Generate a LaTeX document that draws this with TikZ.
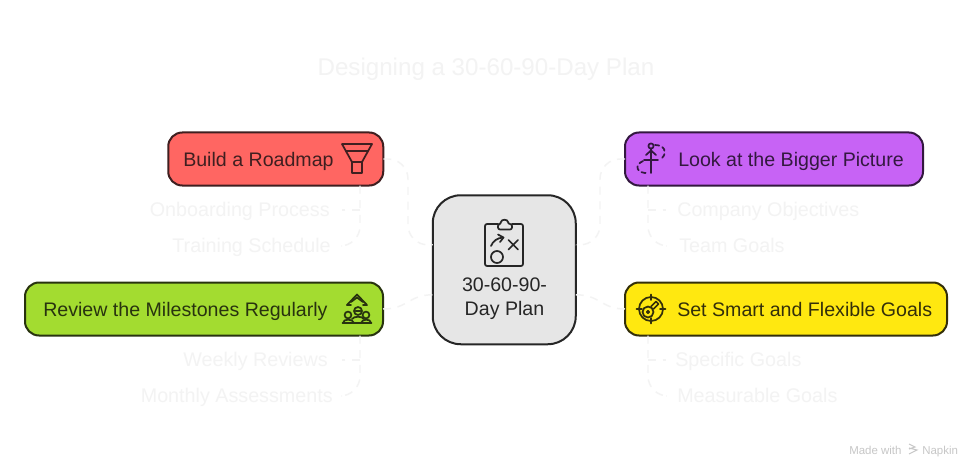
\documentclass[tikz,border=0pt]{standalone}
\usepackage{fontspec}
\setmainfont{Liberation Sans}
\usetikzlibrary{arrows.meta}
\definecolor{faint}{HTML}{F3F3F3}
\definecolor{redf}{HTML}{FF6662}\definecolor{redd}{HTML}{3F1F20}
\definecolor{purf}{HTML}{C763F5}\definecolor{purd}{HTML}{33183F}
\definecolor{grnf}{HTML}{A3DC30}\definecolor{grnd}{HTML}{28330F}
\definecolor{yelf}{HTML}{FFE810}\definecolor{yeld}{HTML}{332F0A}
\definecolor{hubf}{HTML}{E6E6E6}\definecolor{hubd}{HTML}{262626}
\tikzset{
  x=0.75pt,y=-0.75pt,
  box/.style={draw,line width=1.5pt,rounded corners=10.5pt,inner sep=0pt,outer sep=0pt},
  boxtext/.style={font=\fontsize{14.7pt}{18pt}\selectfont,inner sep=0pt},
  sub/.style={font=\fontsize{14.8pt}{17pt}\selectfont,text=faint,inner sep=0pt},
  link/.style={draw=faint,line width=1.1pt,dash pattern=on 6pt off 5pt,rounded corners=15pt},
  ico/.style={line width=1.3pt,line cap=round,line join=round}
}
\begin{document}
\begin{tikzpicture}
\useasboundingbox[fill=white] (0,0) rectangle (972,467);
% title
\node[font=\fontsize{18.1pt}{22pt}\selectfont,text=faint,inner sep=0pt,anchor=mid] (title) at (486,72) {Designing a 30-60-90-Day Plan};
% boxes
\node[box,fill=redf,draw=redd,minimum width=161.25pt,minimum height=39.75pt] (roadmap) at (275.75,159) {};
\node[box,fill=purf,draw=purd,minimum width=223.5pt,minimum height=39.75pt] (bigger) at (774,159) {};
\node[box,fill=grnf,draw=grnd,minimum width=268.5pt,minimum height=39.75pt] (review) at (204,309) {};
\node[box,fill=yelf,draw=yeld,minimum width=241.5pt,minimum height=39.75pt] (smart) at (786,309) {};
\node[box,fill=hubf,draw=hubd,rounded corners=21pt,minimum width=107.25pt,minimum height=111.75pt] (hub) at (504.25,269.75) {};
% box texts
\node[boxtext,text=redd,anchor=mid west] (t1) at (183,162.5) {Build a Roadmap};
\node[boxtext,text=purd,anchor=mid west] (t2) at (678,162.5) {Look at the Bigger Picture};
\node[boxtext,text=grnd,anchor=mid west] (t3) at (43,312.5) {Review the Milestones Regularly};
\node[boxtext,text=yeld,anchor=mid west] (t4) at (677,312.5) {Set Smart and Flexible Goals};
\node[boxtext,text=hubd,align=center,anchor=center] (t5) at (504.5,299) {30-60-90-\\Day Plan};
% sub labels
\node[sub,anchor=mid east] (onb) at (330,213) {Onboarding Process};
\node[sub,anchor=mid east] (tra) at (331,249) {Training Schedule};
\node[sub,anchor=mid east] (wee) at (328,363) {Weekly Reviews};
\node[sub,anchor=mid east] (mon) at (333,399) {Monthly Assessments};
\node[sub,anchor=mid west] (com) at (677,213) {Company Objectives};
\node[sub,anchor=mid west] (tea) at (679,249) {Team Goals};
\node[sub,anchor=mid west] (spe) at (675,363) {Specific Goals};
\node[sub,anchor=mid west] (mea) at (677,399) {Measurable Goals};
% connector ends
\coordinate (hubLa) at ([shift={(0,-25)}]hub.west);
\coordinate (hubLb) at ([shift={(0,25)}]hub.west);
\coordinate (hubRa) at ([shift={(0,-25)}]hub.east);
\coordinate (hubRb) at ([shift={(0,25)}]hub.east);
\coordinate (rmS) at ([shift={(84.25,0)}]roadmap.south);
\coordinate (bgS) at ([shift={(-126,0)}]bigger.south);
\coordinate (rvS) at ([shift={(156,0)}]review.south);
\coordinate (smS) at ([shift={(-138,0)}]smart.south);
\coordinate (traE) at (342,246);
\coordinate (onbE) at (342,210);
\coordinate (monE) at (342,396);
\coordinate (weeE) at (342,360);
\coordinate (teaE) at (666,246);
\coordinate (comE) at (666,210);
\coordinate (meaE) at (666,396);
\coordinate (speE) at (666,360);
% hub connectors
\draw[link] (roadmap.east) -- (408,159) -- (408,245) -- (hubLa);
\draw[link] (bigger.west) -- (600,159) -- (600,245) -- (hubRa);
\draw[link,rounded corners=0pt] (review.east) .. controls (408,309) and (408,295) .. (hubLb);
\draw[link,rounded corners=0pt] (smart.west) .. controls (601,309) and (601,295) .. (hubRb);
% child connectors
\draw[link] (rmS) -- (360,246) -- (traE);
\draw[link] (360,210) -- (onbE);
\draw[link] (bgS) -- (648,246) -- (teaE);
\draw[link] (648,210) -- (comE);
\draw[link] (rvS) -- (360,396) -- (monE);
\draw[link] (360,360) -- (weeE);
\draw[link] (smS) -- (648,396) -- (meaE);
\draw[link] (648,360) -- (speE);
% funnel icon
\begin{scope}[ico,draw=redd]
\draw (342,144) -- (372,144) -- (362,162) -- (352,162) -- cycle;
\draw (346,151) -- (368,151);
\draw (352,162) rectangle (362,173);
\end{scope}
% bigger picture icon
\begin{scope}[ico,draw=purd]
\draw (651,146) circle (2.6);
\draw (651,149) -- (651,173);
\draw (646,155) -- (651,150.5) -- (656,155);
\draw (644,160) -- (658,160);
\draw[dash pattern=on 3.2pt off 2.6pt] (655,145) .. controls (664,145) and (668,152) .. (662,158);
\draw[dash pattern=on 3.2pt off 2.6pt] (643,161) .. controls (634,165) and (636,174) .. (649,173);
\end{scope}
% milestones icon
\begin{scope}[ico,draw=grnd]
\draw (347,305) -- (357,294.5) -- (367,305) -- (363,305);
\draw (347,305) -- (351,305);
\draw (351,302) -- (357,297.5) -- (363,302);
\draw (358,311) circle (4); \draw (355.5,311) -- (360.5,311);
\draw (348,315) circle (3.4);
\draw (366,315) circle (3.4);
\draw (343,323) .. controls (343,318.5) and (353,318.5) .. (354,323);
\draw (361,323) .. controls (362,318.5) and (371,318.5) .. (371,323);
\draw (352,319) .. controls (354,316) and (362,316) .. (364,319);
\draw (342.5,323) -- (371.5,323);
\end{scope}
% target icon
\begin{scope}[ico,draw=yeld]
\draw (651,309) circle (12);
\draw (636.5,309) -- (642,309) (660,309) -- (665.5,309) (651,294.5) -- (651,300) (651,318) -- (651,323.5);
\draw (648,312) circle (1.2);
\draw (648,312) circle (5.5);
\draw (651,306.5) -- (656,301.5) -- (658.5,304) -- (653.5,309);
\end{scope}
% clipboard icon
\begin{scope}[ico,draw=hubd]
\draw[rounded corners=1.5pt] (498,224) -- (485,224) -- (485,266) -- (523,266) -- (523,224) -- (512,224);
\draw[rounded corners=1.5pt] (498,229.5) -- (498,224) -- (501,224) .. controls (501,219) and (508,219) .. (508,224) -- (512,224) -- (512,229.5) -- cycle;
\draw (491,246) .. controls (493,241) and (497,238) .. (503,237.5);
\draw (498,234.5) -- (503.5,237.5) -- (500,242);
\draw (508.5,240) -- (518,249.5) (518,240) -- (508.5,249.5);
\draw (497,257) circle (6);
\end{scope}
% watermark
\node[font=\fontsize{8.6pt}{10pt}\selectfont,text=black!22,inner sep=0pt,anchor=mid west] (made) at (849,451) {Made with};
\node[font=\fontsize{8.6pt}{10pt}\selectfont,text=black!22,inner sep=0pt,anchor=mid west] (nap) at (922,451) {Napkin};
\draw[black!22,line width=0.8pt] (909,444) -- (915,447) -- (909,449) (909,448) -- (917,450) -- (909,454);
\end{tikzpicture}
\end{document}
